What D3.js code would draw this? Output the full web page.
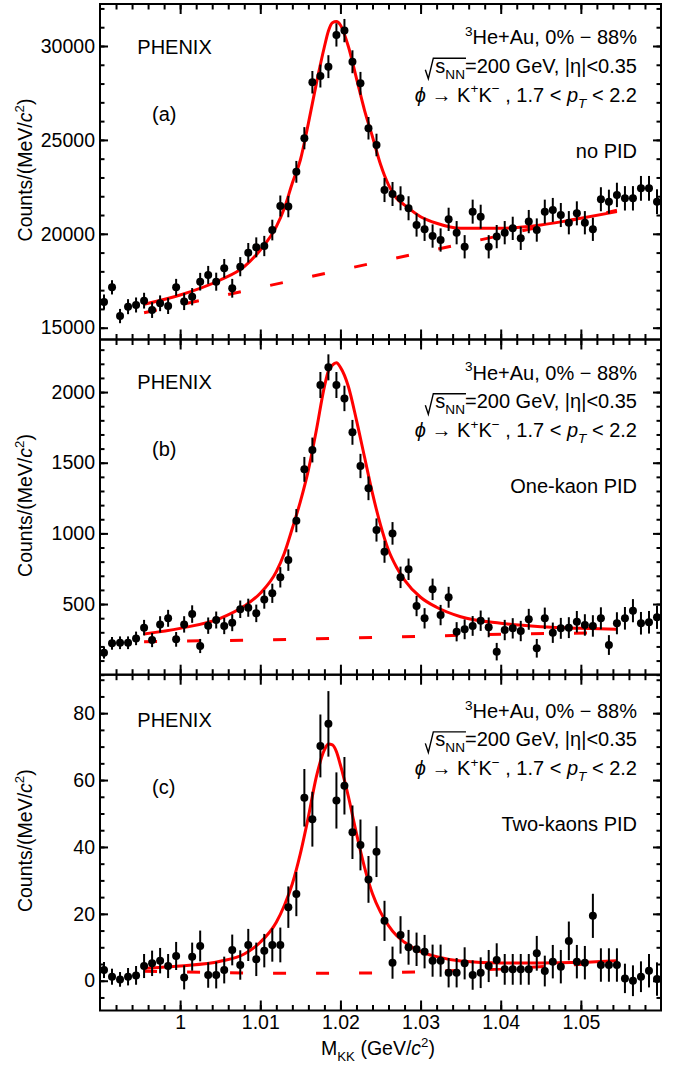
<!DOCTYPE html>
<html>
<head>
<meta charset="utf-8">
<script src="https://cdn.jsdelivr.net/npm/d3@7"></script>
<style>
body { margin: 0; background: #fff; }
svg text { font-family: "Liberation Sans", Arial, Helvetica, sans-serif; fill: #000; }
</style>
</head>
<body>
<div id="canvas"></div>
<script>
// bin centres (GeV/c^2), 1 MeV bins
let mass = [0.9905,0.9915,0.9925,0.9935,0.9945,0.9955,0.9965,0.9975,0.9985,0.9995,
            1.0005,1.0015,1.0025,1.0035,1.0045,1.0055,1.0065,1.0075,1.0085,1.0095,
            1.0105,1.0115,1.0125,1.0135,1.0145,1.0155,1.0165,1.0175,1.0185,1.0195,
            1.0205,1.0215,1.0225,1.0235,1.0245,1.0255,1.0265,1.0275,1.0285,1.0295,
            1.0305,1.0315,1.0325,1.0335,1.0345,1.0355,1.0365,1.0375,1.0385,1.0395,
            1.0405,1.0415,1.0425,1.0435,1.0445,1.0455,1.0465,1.0475,1.0485,1.0495,
            1.0505,1.0515,1.0525,1.0535,1.0545,1.0555,1.0565,1.0575,1.0585,1.0595];

// (a) no PID
let countsA = [16370,17150,15620,16120,16210,16440,15940,16300,16160,17150,
               16390,16650,17450,17810,17450,18160,17100,18250,18990,19280,
               19350,20200,21480,21450,23300,25090,28070,28400,28900,30590,
               30820,29160,28010,25620,24730,22330,22120,21890,21360,20470,
               20240,19880,19670,20770,20060,19310,21180,20910,19310,19850,
               20060,20290,19760,20650,20200,21180,21270,21000,20590,21090,
               20590,20240,21840,21710,22070,21890,21890,22420,22420,21710];
let errA = [400,380,380,400,400,420,420,420,430,450,
            450,460,470,480,480,500,500,510,520,530,
            540,550,560,570,580,590,600,610,610,620,
            620,610,610,600,600,640,640,640,640,620,
            620,620,620,620,620,620,640,640,620,620,
            620,620,620,620,620,640,640,640,620,640,
            620,620,640,640,650,650,650,660,660,660];

// (b) one-kaon PID
let countsB = [156,222,226,226,257,333,245,356,399,250,
               356,429,203,347,387,345,368,463,474,434,
               533,576,689,811,1090,1453,1590,2050,2175,2050,
               1955,1715,1477,1319,1024,870,1000,689,746,486,
               399,604,422,548,304,321,345,382,335,163,
               316,328,309,392,187,399,297,328,333,375,
               352,345,399,210,364,399,453,364,371,406];
let errB = [42,45,45,45,48,55,50,58,60,52,
            58,62,50,58,60,58,60,62,64,62,
            66,68,72,76,82,88,88,92,92,92,
            90,88,86,84,82,78,80,76,76,72,
            72,76,72,74,68,70,70,72,70,62,
            72,72,72,74,66,76,72,74,74,76,
            76,76,78,70,78,80,82,80,80,82];

// (c) two-kaons PID
let countsC = [3.2,1.2,0.4,1.2,1.6,4.4,5.2,6.0,4.4,7.4,
               1.0,7.2,10.4,1.7,1.7,3.2,9.2,4.7,10.7,6.4,
               9.0,10.7,10.7,22.0,25.9,54.7,48.3,70.2,76.8,53.9,
               58.3,44.4,40.6,30.3,38.6,17.9,5.4,13.7,10.0,9.4,
               8.7,6.0,6.0,2.4,2.4,5.2,1.7,2.4,4.4,6.2,
               3.4,3.4,3.4,3.4,8.2,2.9,5.7,4.2,11.9,5.7,
               5.4,19.4,4.7,4.7,4.7,0.7,0.0,1.2,3.0,0.5];
let errC = [2.4,2.4,2.2,2.6,2.8,3.6,3.8,3.8,3.6,4.2,
            3.6,4.2,4.6,3.8,4.0,4.0,4.6,4.4,4.8,5.0,
            5.0,5.0,5.2,6.2,6.6,8.6,8.2,9.4,9.8,8.4,
            8.6,8.0,7.6,7.0,7.6,6.0,4.8,5.6,5.2,5.0,
            5.0,4.8,4.8,4.4,4.4,4.8,4.4,4.6,4.8,5.0,
            4.6,4.6,4.6,4.6,5.2,4.6,5.0,5.0,5.8,5.0,
            5.0,6.6,5.0,5.0,5.0,4.4,4.6,4.6,5.0,5.0];

// fit curves (signal + background)
let fitMass = [0.9955,1.000,1.005,1.008,1.010,1.012,1.013,1.014,1.015,1.016,
               1.017,1.018,1.0185,1.019,1.0195,1.020,1.021,1.022,1.023,1.024,
               1.025,1.026,1.027,1.028,1.030,1.032,1.035,1.040,1.045,1.050,1.0545];
let fitA = [16250,16740,17540,18250,19140,20380,21360,22700,23930,25880,
            28010,29960,30800,31240,31300,31118,29960,28280,26590,25170,
            23700,22600,21890,21530,20910,20560,20290,20290,20470,20830,21180];
let fitB = [288,328,399,486,576,729,859,1036,1225,1448,
            1731,2038,2150,2191,2207,2175,2038,1802,1542,1283,
            1060,880,760,670,548,477,410,364,340,328,321];
let fitC = [3.7,4.4,5.8,8.0,11.5,17.5,22.5,29,38,49,
            61,69,70.8,70.5,68.5,64.5,55,44,34,26,
            20.5,16.5,13.5,11.5,8.7,7.2,5.9,5.3,5.3,5.5,6.0];

// background only (dashed)
let bgMass = [0.9955,1.010,1.025,1.040,1.0545];
let bgA = [15800,17140,18530,19910,21250];
let bgB = [234,246,264,287,297];
let bgC = [2.8,2.2,2.3,3.5,5.5];

let xTicks = [1,1.01,1.02,1.03,1.04,1.05];

let drawing = d3.select("#canvas")
    .append("svg")
    .attr("width", 685)
    .attr("height", 1066);

let left = 100, right = 661;
let x = d3.scaleLinear().domain([0.99, 1.06]).range([left, right]);
let xMinor = d3.range(0.992, 1.0599, 0.002);

let panels = [
    {top: 4,     bottom: 339.5, domain: [14372, 32236], major: [15000,20000,25000,30000], minor: 1000,
     counts: countsA, err: errA, fit: fitA, bg: bgA, tag: "(a)", pid: "no PID", shift: 0},
    {top: 339.5, bottom: 674.7, domain: [0, 2372], major: [500,1000,1500,2000], minor: 100,
     counts: countsB, err: errB, fit: fitB, bg: bgB, tag: "(b)", pid: "One-kaon PID", shift: 0},
    {top: 674.7, bottom: 1010.5, domain: [-8.9, 91.5], major: [0,20,40,60,80], minor: 5,
     counts: countsC, err: errC, fit: fitC, bg: bgC, tag: "(c)", pid: "Two-kaons PID", shift: 3}
];

let fs = 19.5;

// text with sub/superscripts, returns the <text> selection
function richText(g, tx, ty, anchor, parts, size) {
    let t = g.append("text")
        .attr("x", tx).attr("y", ty)
        .attr("text-anchor", anchor)
        .attr("font-size", size);
    let shift = 0;
    parts.forEach(p => {
        let ts = t.append("tspan").text(p.t);
        let target = p.sup ? -0.42 * size : p.sub ? 0.3 * size : 0;
        if (target !== shift) { ts.attr("dy", target - shift); shift = target; }
        if (p.sup || p.sub) ts.attr("font-size", size * 0.68);
        if (p.it) ts.attr("font-style", "italic");
    });
    return t;
}

panels.forEach((p, pi) => {
    let y = d3.scaleLinear().domain(p.domain).range([p.bottom, p.top]);
    let g = drawing.append("g");
    let yMinor = d3.range(Math.ceil(p.domain[0] / p.minor) * p.minor, p.domain[1], p.minor);

    // ticks
    g.append("g").attr("transform", `translate(${left},0)`)
        .call(d3.axisLeft(y).tickValues(yMinor).tickSize(-4.5).tickSizeOuter(0).tickFormat(""));
    g.append("g").attr("transform", `translate(${left},0)`)
        .call(d3.axisLeft(y).tickValues(p.major).tickSize(-8).tickSizeOuter(0).tickPadding(5)
            .tickFormat(d3.format("d")));
    g.append("g").attr("transform", `translate(${right},0)`)
        .call(d3.axisRight(y).tickValues(yMinor).tickSize(-4.5).tickSizeOuter(0).tickFormat(""));
    g.append("g").attr("transform", `translate(${right},0)`)
        .call(d3.axisRight(y).tickValues(p.major).tickSize(-8).tickSizeOuter(0).tickFormat(""));
    g.append("g").attr("transform", `translate(0,${p.bottom})`)
        .call(d3.axisBottom(x).tickValues(xMinor).tickSize(-5.5).tickSizeOuter(0).tickFormat(""));
    g.append("g").attr("transform", `translate(0,${p.bottom})`)
        .call(d3.axisBottom(x).tickValues(xTicks).tickSize(-10).tickSizeOuter(0).tickPadding(4.2)
            .tickFormat(pi === 2 ? (d => String(+d.toFixed(2))) : ""));
    g.append("g").attr("transform", `translate(0,${p.top})`)
        .call(d3.axisTop(x).tickValues(xMinor).tickSize(-5.5).tickSizeOuter(0).tickFormat(""));
    g.append("g").attr("transform", `translate(0,${p.top})`)
        .call(d3.axisTop(x).tickValues(xTicks).tickSize(-10).tickSizeOuter(0).tickFormat(""));

    g.selectAll(".domain").remove();
    g.selectAll(".tick line").attr("stroke", "#000").attr("stroke-width", 2);
    g.selectAll(".tick text").attr("font-size", fs)
        .attr("font-family", '"Liberation Sans", Arial, sans-serif').attr("fill", "#000");

    // fit curves
    let bgLine = d3.line().x((d, i) => x(bgMass[i])).y(d => y(d));
    g.append("path")
        .attr("d", bgLine(p.bg))
        .attr("fill", "none").attr("stroke", "#ff0000").attr("stroke-width", 3)
        .attr("stroke-dasharray", "13,30");
    let fitLine = d3.line().x((d, i) => x(fitMass[i])).y(d => y(d)).curve(d3.curveMonotoneX);
    g.append("path")
        .attr("d", fitLine(p.fit))
        .attr("fill", "none").attr("stroke", "#ff0000").attr("stroke-width", 3);

    // data points with error bars
    g.selectAll(".err").data(p.counts).enter().append("line")
        .attr("x1", (d, i) => x(mass[i])).attr("x2", (d, i) => x(mass[i]))
        .attr("y1", (d, i) => y(d - p.err[i])).attr("y2", (d, i) => y(d + p.err[i]))
        .attr("stroke", "#000").attr("stroke-width", 2);
    g.selectAll(".pt").data(p.counts).enter().append("circle")
        .attr("cx", (d, i) => x(mass[i])).attr("cy", d => y(d))
        .attr("r", 4).attr("fill", "#000");

    // frame
    g.append("rect")
        .attr("x", left).attr("y", p.top)
        .attr("width", right - left).attr("height", p.bottom - p.top)
        .attr("fill", "none").attr("stroke", "#000").attr("stroke-width", 2);

    // labels
    let t0 = p.top + p.shift;
    g.append("text").attr("x", 137.3).attr("y", t0 + 49.5).attr("font-size", 20).text("PHENIX");
    g.append("text").attr("x", 152).attr("y", t0 + 116.7).attr("font-size", 20).text(p.tag);
    g.append("text").attr("x", 637).attr("y", t0 + 153.5).attr("font-size", 20)
        .attr("text-anchor", "end").text(p.pid);

    richText(g, 637, t0 + 40.3, "end",
        [{t: "3", sup: true}, {t: "He+Au, 0% \u2212 88%"}], 20);
    let l2 = richText(g, 637, t0 + 68.7, "end",
        [{t: "s"}, {t: "NN", sub: true}, {t: "=200 GeV, |\u03b7|<0.35"}], 20);
    // square-root sign over s_NN
    let n2 = l2.node();
    let sPos = n2.getStartPositionOfChar(0);
    let nEnd = n2.getEndPositionOfChar(2);
    let yb = t0 + 68.7;
    g.append("path")
        .attr("d", `M${sPos.x - 10},${yb - 3} L${sPos.x - 7},${yb + 6} L${sPos.x - 2},${yb - 14.5} L${nEnd.x + 1},${yb - 14.5}`)
        .attr("fill", "none").attr("stroke", "#000").attr("stroke-width", 1.4);
    richText(g, 637, t0 + 97.5, "end",
        [{t: "\u03d5", it: true}, {t: " \u2192 K"}, {t: "+", sup: true}, {t: "K"}, {t: "\u2212", sup: true},
         {t: " , 1.7 < "}, {t: "p", it: true}, {t: "T", sub: true, it: true}, {t: " < 2.2"}], 20);

    // y title
    let yt = richText(g, 0, 0, "middle",
        [{t: "Counts/(MeV/"}, {t: "c", it: true}, {t: "2", sup: true}, {t: ")"}], fs);
    yt.attr("transform", `translate(32,${p.top + 166}) rotate(-90)`);
});

// x title
richText(drawing, 378, 1055, "middle",
    [{t: "M"}, {t: "KK", sub: true}, {t: " (GeV/"}, {t: "c", it: true}, {t: "2", sup: true}, {t: ")"}], fs);
</script>
</body>
</html>
